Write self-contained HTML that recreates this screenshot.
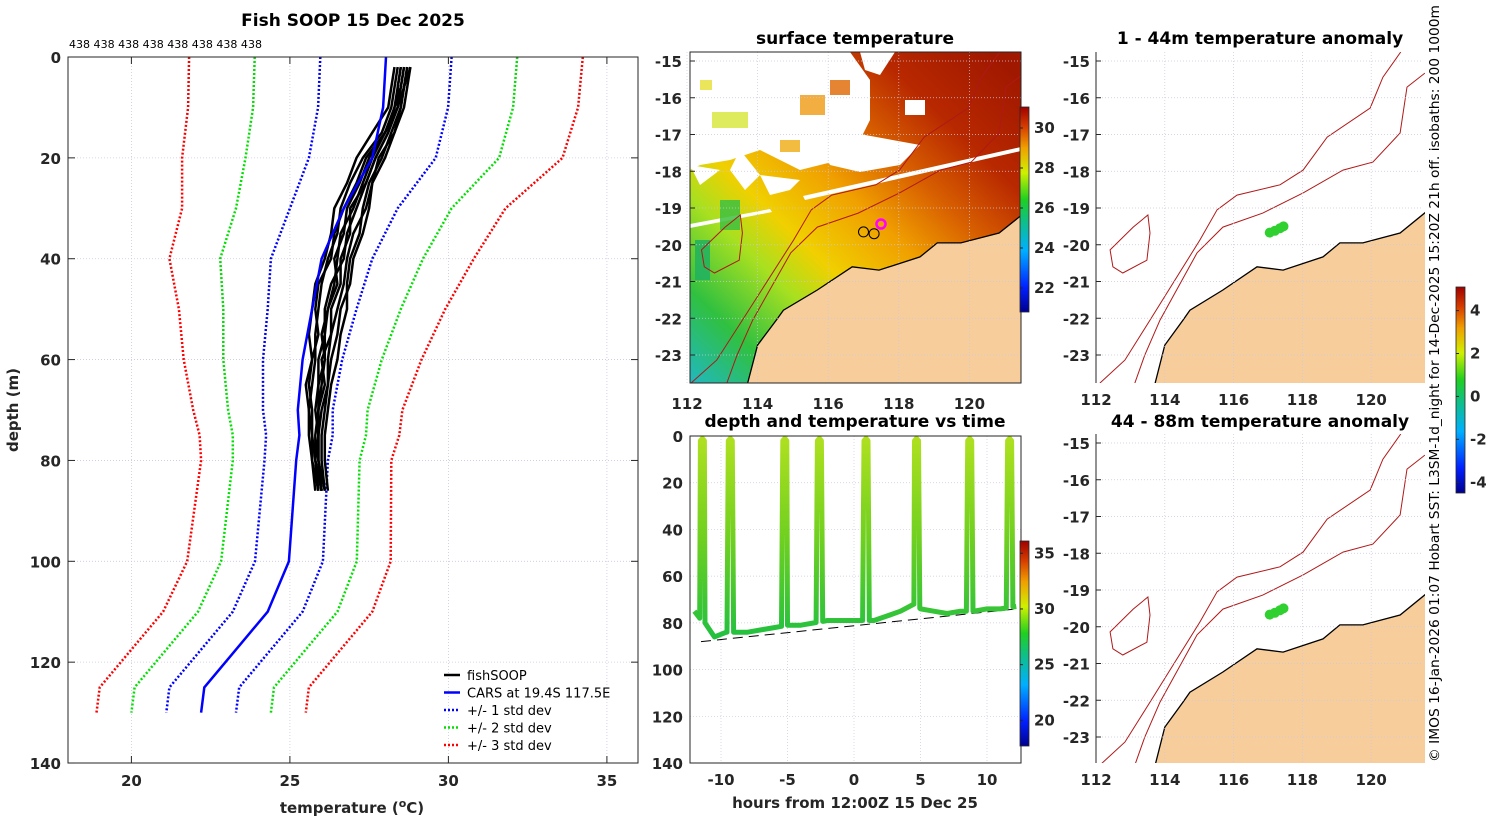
<!DOCTYPE html>
<html><head><meta charset="utf-8"><style>
html,body{margin:0;padding:0;background:#fff;}
svg{display:block;font-family:"DejaVu Sans","Liberation Sans",sans-serif;}
.tk{font-size:15px;font-weight:bold;fill:#262626;}
.ti{font-size:17px;font-weight:bold;fill:#000;}
</style></head><body>
<svg id="fig" width="1500" height="820" viewBox="0 0 1500 820" xmlns="http://www.w3.org/2000/svg">
<defs>
<linearGradient id="sstg" gradientUnits="userSpaceOnUse" x1="690" y1="383" x2="1000" y2="60">
<stop offset="0" stop-color="#20b8c0"/><stop offset="0.15" stop-color="#30c040"/><stop offset="0.3" stop-color="#a8e020"/><stop offset="0.4" stop-color="#f0d000"/><stop offset="0.55" stop-color="#f0a000"/><stop offset="0.68" stop-color="#d86000"/><stop offset="0.82" stop-color="#b82800"/><stop offset="1" stop-color="#a01800"/>
</linearGradient>
<linearGradient id="jet" x1="0" y1="1" x2="0" y2="0">
<stop offset="0" stop-color="#00008f"/><stop offset="0.12" stop-color="#0020ff"/><stop offset="0.3" stop-color="#00b0ff"/><stop offset="0.45" stop-color="#10c080"/><stop offset="0.55" stop-color="#20d020"/><stop offset="0.68" stop-color="#d0f000"/><stop offset="0.8" stop-color="#f0a000"/><stop offset="0.9" stop-color="#d84000"/><stop offset="1" stop-color="#a00000"/>
</linearGradient>
<linearGradient id="dtg" gradientUnits="userSpaceOnUse" x1="0" y1="436" x2="0" y2="640">
<stop offset="0" stop-color="#b0e020"/><stop offset="0.5" stop-color="#70d020"/><stop offset="1" stop-color="#20c040"/>
</linearGradient>
<clipPath id="cMid"><rect x="690" y="52" width="331" height="331"/></clipPath>
<clipPath id="cR1"><rect x="1096" y="52" width="329" height="331"/></clipPath>
<clipPath id="cR2"><rect x="1096" y="434" width="329" height="329"/></clipPath>
<clipPath id="cL"><rect x="68" y="57" width="570" height="706"/></clipPath>
</defs>
<g id="root"></g>
</svg>
<script>
// ---------- data ----------
var profileDepths=[0,10,20,30,40,50,60,70,75,80,100,110,125,130];
var carsMean=[28.03,27.94,27.6,26.7,26.0,25.7,25.4,25.25,25.3,25.2,24.97,24.3,22.3,22.2];
var carsStd=[2.07,2.05,2.0,1.7,1.6,1.4,1.25,1.1,1.05,1.0,1.07,1.1,1.1,1.1];
var fishDepths=[2,6,10,15,20,25,30,35,40,45,50,55,60,65,70,75,80,86];
var fish1=[28.4,28.3,28.2,27.9,27.3,26.9,26.6,26.5,26.2,26.0,25.9,25.8,25.8,25.7,25.6,25.7,25.7,25.8];
var fish2=[28.6,28.5,28.3,28.1,27.7,27.4,27.1,26.8,26.7,26.3,26.1,26.1,25.9,25.9,25.8,25.9,25.8,26.0];
var fish3=[28.8,28.6,28.5,28.3,28.0,27.6,27.5,27.3,27.0,26.9,26.6,26.5,26.3,26.2,26.1,26.0,26.0,26.1];
var fish4=[28.5,28.4,28.3,28.0,27.5,27.2,26.8,26.7,26.4,26.5,26.2,26.1,26.1,25.9,25.9,25.9,25.9,26.0];
var fish5=[28.7,28.6,28.5,28.2,27.9,27.5,27.3,27.2,26.9,26.8,26.8,26.6,26.5,26.3,26.2,26.1,26.1,26.2];
var fish6=[28.3,28.2,28.1,27.6,27.1,26.8,26.4,26.3,26.1,25.8,25.7,25.6,25.7,25.5,25.6,25.6,25.7,25.9];
var fish7=[28.6,28.5,28.4,28.0,27.6,27.3,27.0,26.6,26.5,26.4,26.2,26.0,26.1,26.0,25.9,25.8,25.8,26.0];
var fish8=[28.8,28.7,28.6,28.3,27.8,27.6,27.4,27.0,26.8,26.7,26.5,26.3,26.2,26.2,26.0,25.9,25.9,26.1];
var fish9=[28.5,28.4,28.4,28.0,27.4,27.1,26.7,26.4,26.3,25.9,25.8,25.9,25.7,25.6,25.7,25.7,25.8,25.9];
var fish10=[28.7,28.6,28.4,28.1,27.7,27.4,26.9,26.9,26.6,26.6,26.3,26.3,26.0,26.1,25.9,25.9,25.9,26.0];
var fishProfiles=[fish1,fish2,fish3,fish4,fish5,fish6,fish7,fish8,fish9,fish10];
var tempTicks=[20,25,30,35];
var depthTicks=[0,20,40,60,80,100,120,140];
var castHours=[-11.4,-9.3,-5.2,-2.6,0.9,4.7,8.7,11.7];
var bottomHours=[-12,-11.6,-11.2,-10.5,-9.6,-9,-8,-7,-6,-5,-4,-3,-2,-1,0,1.5,2.5,3.5,4.5,5,6,7,8,9,10,11,12.2];
var bottomDepths=[75,78,80,86,84,84,84,83,82,81,81,80,79,79,79,79,77,75,72,74,75,76,75,75,74,74,73];
var refLineHours=[-11.5,12.2];
var refLineDepths=[88,74];
var hourTicks=[-10,-5,0,5,10];
var dtDepthTicks=[0,20,40,60,80,100,120,140];
var lonTicks=[112,114,116,118,120];
var latTicks=[-15,-16,-17,-18,-19,-20,-21,-22,-23];
var sstTicks=[30,28,26,24,22];
var dtCbTicks=[35,30,25,20];
var anomTicks=[4,2,0,-2,-4];
var coastLon=[121.7,121.59,120.84,119.76,119.09,118.6,117.44,116.68,115.69,114.73,114.53,114.0,113.72,113.7];
var coastLat=[-19.0,-19.11,-19.68,-19.95,-19.95,-20.33,-20.69,-20.6,-21.23,-21.78,-22.05,-22.73,-23.76,-24.0];
var iso1000Lon=[112.0,112.12,112.84,113.57,115.02,115.52,116.10,117.35,118.02,118.72,119.97,120.34,120.84,121.0];
var iso1000Lat=[-24.0,-23.76,-23.14,-22.05,-19.87,-19.05,-18.65,-18.37,-17.97,-17.07,-16.28,-15.44,-14.78,-14.5];
var iso200Lon=[113.05,113.13,113.42,113.86,114.94,115.69,116.85,118.02,119.18,120.05,120.84,121.04,121.56];
var iso200Lat=[-24.0,-23.76,-23.0,-22.05,-20.22,-19.52,-19.14,-18.59,-17.97,-17.75,-16.96,-15.71,-15.33];
var islandLon=[112.41,113.08,113.51,113.57,113.48,112.78,112.49];
var islandLat=[-20.14,-19.52,-19.19,-19.68,-20.42,-20.77,-20.6];
var dotLon=[117.05,117.2,117.35,117.45];
var dotLat=[-19.67,-19.62,-19.55,-19.5];
var sstCircLon=[117.0,117.3];
var sstCircLat=[-19.65,-19.7];
var NS="http://www.w3.org/2000/svg";
var root=document.getElementById('root');
function mk(tag,attrs,parent,txt){var e=document.createElementNS(NS,tag);for(var k in attrs)e.setAttribute(k,attrs[k]);if(txt!==undefined)e.textContent=txt;(parent||root).appendChild(e);return e;}
function pts(xs,ys){return xs.map(function(x,i){return x.toFixed(1)+','+ys[i].toFixed(1);}).join(' ');}

// ---------- left panel ----------
function xT(t){return 68+(t-18)*31.7;}
function yD(d){return 57+d*5.043;}
var gL=mk('g',{});


tempTicks.forEach(function(t){var l=mk('line',{x1:xT(t),x2:xT(t),y1:57,y2:763,stroke:'#c8c8e0','stroke-width':0.8,'stroke-dasharray':'1,2'},gL);

var tx=mk('text',{x:xT(t),y:786,'text-anchor':'middle',class:'tk'},gL,String(t));

mk('line',{x1:xT(t),x2:xT(t),y1:763,y2:756,stroke:'#262626'},gL);mk('line',{x1:xT(t),x2:xT(t),y1:57,y2:64,stroke:'#262626'},gL);});
depthTicks.forEach(function(d){var l=mk('line',{x1:68,x2:638,y1:yD(d),y2:yD(d),stroke:'#c8c8e0','stroke-width':0.8,'stroke-dasharray':'1,2'},gL);

var tx=mk('text',{x:61,y:yD(d)+6,'text-anchor':'end',class:'tk'},gL,String(d));

mk('line',{x1:68,x2:75,y1:yD(d),y2:yD(d),stroke:'#262626'},gL);mk('line',{x1:638,x2:631,y1:yD(d),y2:yD(d),stroke:'#262626'},gL);});
var gLc=mk('g',{'clip-path':'url(#cL)'},gL);
[[3,'#ff0000'],[2,'#00e000'],[1,'#0000ff']].forEach(function(s){
 [-1,1].forEach(function(sg){
  var xs=carsMean.map(function(m,i){return xT(m+sg*s[0]*carsStd[i]);});var ys=profileDepths.map(yD);
  var p=mk('polyline',{points:pts(xs,ys),fill:'none',stroke:s[1],'stroke-width':2.5,'stroke-dasharray':'2,2'},gLc);
  
  
 });
});
fishProfiles.forEach(function(pr){
 var p=mk('polyline',{points:pts(pr.map(xT),fishDepths.map(yD)),fill:'none',stroke:'#000','stroke-width':2.5,'stroke-linejoin':'round'},gLc);
 
 
});
var cars=mk('polyline',{points:pts(carsMean.map(xT),profileDepths.map(yD)),fill:'none',stroke:'#0000ff','stroke-width':2.5},gLc);


var bx=mk('rect',{x:68,y:57,width:570,height:706,fill:'none',stroke:'#262626','stroke-width':1},gL);

var t1=mk('text',{x:353,y:26,'text-anchor':'middle',class:'ti'},gL,'Fish SOOP 15 Dec 2025');

var cnt=mk('text',{x:69,y:48,'font-size':'11px',fill:'#000',textLength:193,lengthAdjust:'spacingAndGlyphs'},gL,'438 438 438 438 438 438 438 438');

var xl=mk('text',{x:352,y:813,'text-anchor':'middle',class:'tk','font-size':'17px'},gL);
xl.innerHTML='temperature (<tspan baseline-shift="super" font-size="11px">o</tspan>C)';

var yl=mk('text',{x:18,y:410,'text-anchor':'middle',class:'tk','font-size':'16px',transform:'rotate(-90 18 410)'},gL,'depth (m)');

var legItems=[['fishSOOP','#000',''],['CARS at 19.4S 117.5E','#0000ff',''],['+/- 1 std dev','#0000ff','2,2'],['+/- 2 std dev','#00e000','2,2'],['+/- 3 std dev','#ff0000','2,2']];
legItems.forEach(function(it,i){var y=675+i*17.5;var g=mk('g',{},gL);

mk('line',{x1:444,x2:460,y1:y,y2:y,stroke:it[1],'stroke-width':2.5,'stroke-dasharray':it[2]||'none'},g);
mk('text',{x:467,y:y+5,'font-size':'13px',fill:'#000'},g,it[0]);});

// ---------- map helpers ----------
function mapper(x112,pxLon,y15,pxLat){return {x:function(lon){return x112+(lon-112)*pxLon;},y:function(lat){return y15+(-15-lat)*pxLat;}};}
var mMid=mapper(687,35.3,61,36.75), mR1=mapper(1096,34.4,61,36.75), mR2=mapper(1096,34.4,443,36.75);
function landPoly(m,g,bottomY){var xs=coastLon.map(m.x),ys=coastLat.map(m.y);var s=pts(xs,ys)+' 1440,'+bottomY+' 1440,'+ys[0];
var p=mk('polygon',{points:s,fill:'#f8cd9c',stroke:'#000','stroke-width':1.3},g);}
function isobaths(m,g){var a=mk('polyline',{points:pts(iso1000Lon.map(m.x),iso1000Lat.map(m.y)),fill:'none',stroke:'#b01818','stroke-width':1},g);

var b=mk('polyline',{points:pts(iso200Lon.map(m.x),iso200Lat.map(m.y)),fill:'none',stroke:'#b01818','stroke-width':1},g);

var c=mk('polygon',{points:pts(islandLon.map(m.x),islandLat.map(m.y)),fill:'none',stroke:'#b01818','stroke-width':1},g);
}
function mapAxes(m,g,x0,y0,w,h,labY,latLabX){
 lonTicks.forEach(function(l){mk('line',{x1:m.x(l),x2:m.x(l),y1:y0,y2:y0+h,stroke:'#c8c8e0','stroke-width':0.7,'stroke-dasharray':'1,2'},g);
 var t=mk('text',{x:m.x(l),y:labY,'text-anchor':'middle',class:'tk'},g,String(l));});
 latTicks.forEach(function(l){var y=m.y(l);if(y<y0||y>y0+h)return;mk('line',{x1:x0,x2:x0+w,y1:y,y2:y,stroke:'#c8c8e0','stroke-width':0.7,'stroke-dasharray':'1,2'},g);
 mk('line',{x1:x0,x2:x0+5,y1:y,y2:y,stroke:'#262626'},g);
 var t=mk('text',{x:latLabX,y:y+6,'text-anchor':'end',class:'tk'},g,String(l));});
}
function colorbar(g,x,y,h,ticks,v0,v1,name){var r=mk('rect',{x:x,y:y,width:9,height:h,fill:'url(#jet)',stroke:'#262626','stroke-width':0.8},g);

ticks.forEach(function(v){var ty=y+h-(v-v0)/(v1-v0)*h;mk('line',{x1:x,x2:x+3,y1:ty,y2:ty,stroke:'#262626'},g);
var t=mk('text',{x:x+14,y:ty+5,class:'tk','font-size':'13px'},g,String(v));});}

// ---------- SST map ----------
var gM=mk('g',{});
var gMc=mk('g',{'clip-path':'url(#cMid)'},gM);
mk('rect',{x:690,y:52,width:331,height:331,fill:'url(#sstg)'},gMc);
var clouds=[[690,52,850,52,870,80,870,120,860,140,840,160,800,170,760,150,730,160,700,165,690,170],[810,125,920,145,900,165,860,172,830,165],[860,52,895,52,880,75,865,70],[905,100,925,100,925,115,905,115],[690,165,720,170,700,185],[740,150,760,175,745,190,730,170],[760,175,800,180,790,190,770,195]];
clouds.forEach(function(c){var xs=[],ys=[];for(var i=0;i<c.length;i+=2){xs.push(c[i]);ys.push(c[i+1]);}var p=mk('polygon',{points:pts(xs,ys),fill:'#fff'},gMc);});
mk('polygon',{points:'690,224 770,209 772,212 690,228',fill:'#fff'},gMc);
mk('polygon',{points:'803,196 1021,147 1021,151 805,200',fill:'#fff'},gMc);
[[700,80,12,10,'#e8e040'],[712,112,36,16,'#d8e840'],[800,95,25,20,'#f0a020'],[830,80,20,15,'#e07010'],[780,140,20,12,'#f0b020'],[720,200,20,30,'#40c040'],[695,240,15,40,'#20b060']].forEach(function(r){mk('rect',{x:r[0],y:r[1],width:r[2],height:r[3],fill:r[4],opacity:0.85},gMc);});
isobaths(mMid,gMc);
landPoly(mMid,gMc,400);
sstCircLon.forEach(function(l,i){var c=mk('circle',{cx:mMid.x(l),cy:mMid.y(sstCircLat[i]),r:5,fill:'none',stroke:'#000','stroke-width':1},gMc);});
var pc=mk('circle',{cx:881,cy:224,r:4.5,fill:'none',stroke:'#ff00ff','stroke-width':2.5},gMc);
mapAxes(mMid,gM,690,52,331,331,409,682);
mk('rect',{x:690,y:52,width:331,height:331,fill:'none',stroke:'#262626'},gM);
var t2=mk('text',{x:855,y:44,'text-anchor':'middle',class:'ti'},gM,'surface temperature');
colorbar(gM,1020,107,205,sstTicks,20.8,31.05,'sst-colorbar');

// ---------- depth vs time ----------
function xH(h){return 854+h*13.3;}
function yDT(d){return 436+d*2.336;}
var gD=mk('g',{});
hourTicks.forEach(function(h){mk('line',{x1:xH(h),x2:xH(h),y1:436,y2:763,stroke:'#c8c8e0','stroke-width':0.7,'stroke-dasharray':'1,2'},gD);
var t=mk('text',{x:xH(h),y:785,'text-anchor':'middle',class:'tk'},gD,String(h));});
dtDepthTicks.forEach(function(d){mk('line',{x1:690,x2:1021,y1:yDT(d),y2:yDT(d),stroke:'#c8c8e0','stroke-width':0.7,'stroke-dasharray':'1,2'},gD);
var t=mk('text',{x:683,y:yDT(d)+6,'text-anchor':'end',class:'tk'},gD,String(d));});
function bottomAt(h){for(var i=1;i<bottomHours.length;i++){if(h<=bottomHours[i]){var f=(h-bottomHours[i-1])/(bottomHours[i]-bottomHours[i-1]);return bottomDepths[i-1]+f*(bottomDepths[i]-bottomDepths[i-1]);}}return bottomDepths[bottomDepths.length-1];}
var seq=[];bottomHours.forEach(function(h,i){seq.push([h,bottomDepths[i]]);});
castHours.forEach(function(c){seq.push([c-0.25,bottomAt(c-0.25)]);seq.push([c-0.15,2]);seq.push([c,1]);seq.push([c+0.15,2]);seq.push([c+0.25,bottomAt(c+0.25)]);});
seq.sort(function(a,b){return a[0]-b[0];});
var dl=mk('polyline',{points:pts(refLineHours.map(xH),refLineDepths.map(yDT)),fill:'none',stroke:'#000','stroke-width':1,'stroke-dasharray':'10,6'},gD);

var tr=mk('polyline',{points:pts(seq.map(function(s){return xH(s[0]);}),seq.map(function(s){return yDT(s[1]);})),fill:'none',stroke:'url(#dtg)','stroke-width':5,'stroke-linejoin':'round'},gD);

mk('rect',{x:690,y:436,width:331,height:327,fill:'none',stroke:'#262626'},gD);
var t3=mk('text',{x:855,y:427,'text-anchor':'middle',class:'ti'},gD,'depth and temperature vs time');
var t4=mk('text',{x:855,y:808,'text-anchor':'middle',class:'tk','font-size':'17px'},gD,'hours from 12:00Z 15 Dec 25');
colorbar(gD,1020,541,205,dtCbTicks,17.7,36.1,'depth-time-colorbar');

// ---------- anomaly maps ----------
function anomMap(m,y0,h,title,titleY,labY,clip,name){
 var g=mk('g',{});
 var gc=mk('g',{'clip-path':'url('+clip+')'},g);
 mk('rect',{x:1096,y:y0,width:329,height:h,fill:'#fff'},gc);
 mapAxes(m,g,1096,y0,325,h,labY,1090);
 isobaths(m,gc);landPoly(m,gc,y0+h+20);
 dotLon.forEach(function(l,i){var c=mk('circle',{cx:m.x(l),cy:m.y(dotLat[i]),r:5,fill:'#30d030'},gc);});
 mk('line',{x1:1096,x2:1096,y1:y0,y2:y0+h,stroke:'#262626'},g);
 var t=mk('text',{x:1260,y:titleY,'text-anchor':'middle',class:'ti'},g,title);
}
anomMap(mR1,52,331,'1 - 44m temperature anomaly',44,405,'#cR1','anomaly-map-shallow');
anomMap(mR2,434,329,'44 - 88m temperature anomaly',427,785,'#cR2','anomaly-map-deep');
var gA=mk('g',{});
colorbar(gA,1456,287,206,anomTicks,-4.5,5.1,'anomaly-colorbar');
var cr=mk('text',{x:1439,y:762,'font-size':'13px',fill:'#000',textLength:757,lengthAdjust:'spacingAndGlyphs',transform:'rotate(-90 1439 762)'},root,'© IMOS 16-Jan-2026 01:07 Hobart SST: L3SM-1d_night for 14-Dec-2025 15:20Z 21h off. isobaths: 200  1000m');

</script>
</body></html>
